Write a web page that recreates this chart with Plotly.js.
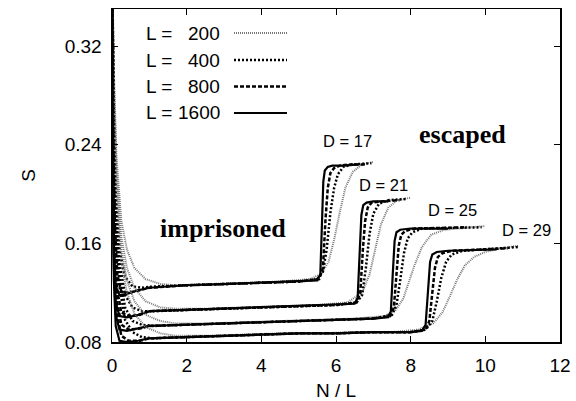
<!DOCTYPE html>
<html>
<head>
<meta charset="utf-8">
<script src="https://cdn.plot.ly/plotly-3.0.1.min.js"></script>
<style>body{margin:0;padding:0;background:#fff}#chart{width:576px;height:401px}</style>
</head>
<body>
<div id="chart"></div>
<script>
// ---- data ----
const D_values = [17, 21, 25, 29];
const L_values = [200, 400, 800, 1600];
const D_label_x = [6.30, 7.26, 9.11, 11.09];
const D_label_y = [0.243, 0.207, 0.187, 0.171];
const xTickVals = [0, 2, 4, 6, 8, 10, 12];
const yTickVals = [0.08, 0.16, 0.24, 0.32];

// D = 17
const x_D17_L1600 = [0,0.02,0.05,0.1,0.2,0.4,0.7,1.0,2,3,4,5,5.5,5.58,5.62,5.66,5.7,5.78,5.9,6.2,6.6];
const s_D17_L1600 = [0.40,0.24,0.16,0.125,0.118,0.119,0.122,0.124,0.126,0.127,0.128,0.129,0.130,0.135,0.175,0.210,0.219,0.222,0.223,0.223,0.224];
const x_D17_L800 = [0,0.03,0.07,0.14,0.25,0.45,0.75,1.0,2,3,4,5,5.55,5.65,5.72,5.78,5.85,5.95,6.1,6.4,6.8];
const s_D17_L800 = [0.40,0.26,0.18,0.135,0.121,0.120,0.122,0.124,0.126,0.127,0.128,0.129,0.131,0.140,0.180,0.205,0.217,0.221,0.223,0.224,0.224];
const x_D17_L400 = [0,0.04,0.1,0.2,0.35,0.55,0.8,1.1,2,3,4,5,5.5,5.65,5.75,5.85,5.95,6.05,6.2,6.45,6.95];
const s_D17_L400 = [0.40,0.28,0.20,0.155,0.133,0.125,0.124,0.125,0.126,0.127,0.128,0.129,0.131,0.137,0.155,0.185,0.205,0.216,0.222,0.224,0.225];
const x_D17_L200 = [0,0.05,0.12,0.25,0.4,0.6,0.9,1.3,1.7,2.5,3.5,4.5,5.3,5.6,5.8,5.95,6.1,6.25,6.45,6.7,7.0];
const s_D17_L200 = [0.40,0.30,0.23,0.178,0.155,0.140,0.131,0.127,0.126,0.127,0.128,0.129,0.131,0.135,0.145,0.163,0.185,0.205,0.218,0.224,0.226];

// D = 21
const x_D21_L1600 = [0,0.02,0.05,0.1,0.2,0.4,0.7,1.0,2,3,4,5,6,6.5,6.58,6.63,6.68,6.73,6.82,7.0,7.4];
const s_D21_L1600 = [0.40,0.23,0.15,0.112,0.101,0.100,0.102,0.105,0.106,0.107,0.108,0.109,0.110,0.111,0.116,0.150,0.183,0.191,0.193,0.194,0.194];
const x_D21_L800 = [0,0.03,0.07,0.14,0.25,0.45,0.75,1.0,2,3,4,5,6,6.55,6.65,6.72,6.78,6.85,6.95,7.2,7.7];
const s_D21_L800 = [0.40,0.25,0.17,0.122,0.104,0.101,0.102,0.105,0.106,0.107,0.108,0.109,0.110,0.112,0.120,0.155,0.178,0.189,0.193,0.194,0.195];
const x_D21_L400 = [0,0.04,0.1,0.2,0.35,0.55,0.8,1.1,2,3,4,5,6,6.55,6.7,6.8,6.9,7.0,7.15,7.4,7.9];
const s_D21_L400 = [0.40,0.27,0.19,0.145,0.118,0.108,0.105,0.105,0.106,0.107,0.108,0.109,0.110,0.112,0.118,0.140,0.168,0.184,0.192,0.195,0.196];
const x_D21_L200 = [0,0.05,0.12,0.25,0.4,0.6,0.9,1.3,1.7,2.5,3.5,4.5,5.5,6.3,6.7,6.9,7.05,7.2,7.4,7.65,8.0];
const s_D21_L200 = [0.40,0.29,0.22,0.165,0.140,0.124,0.113,0.108,0.107,0.107,0.108,0.109,0.110,0.112,0.120,0.135,0.155,0.175,0.189,0.195,0.197];

// D = 25
const x_D25_L1600 = [0,0.02,0.05,0.1,0.2,0.4,0.7,1.0,2,3,4,5,6,7,7.4,7.47,7.52,7.57,7.62,7.72,8.0,9.0];
const s_D25_L1600 = [0.40,0.22,0.14,0.102,0.090,0.089,0.091,0.093,0.094,0.095,0.096,0.097,0.098,0.099,0.100,0.105,0.135,0.162,0.169,0.171,0.172,0.172];
const x_D25_L800 = [0,0.03,0.07,0.14,0.25,0.45,0.75,1.0,2,3,4,5,6,7,7.45,7.55,7.62,7.68,7.75,7.85,8.1,9.5];
const s_D25_L800 = [0.40,0.24,0.16,0.112,0.094,0.090,0.091,0.093,0.094,0.095,0.096,0.097,0.098,0.099,0.101,0.108,0.135,0.158,0.167,0.170,0.172,0.173];
const x_D25_L400 = [0,0.04,0.1,0.2,0.35,0.55,0.8,1.1,2,3,4,5,6,7,7.5,7.62,7.72,7.82,7.92,8.05,8.3,9.9];
const s_D25_L400 = [0.40,0.26,0.18,0.135,0.108,0.097,0.094,0.093,0.094,0.095,0.096,0.097,0.098,0.099,0.102,0.110,0.130,0.152,0.164,0.169,0.172,0.173];
const x_D25_L200 = [0,0.05,0.12,0.25,0.4,0.6,0.9,1.3,1.7,2.5,3.5,4.5,5.5,6.5,7.3,7.6,7.8,7.95,8.1,8.3,8.55,8.9,10.0];
const s_D25_L200 = [0.40,0.28,0.21,0.155,0.130,0.113,0.102,0.097,0.095,0.095,0.096,0.097,0.098,0.099,0.101,0.106,0.115,0.128,0.142,0.157,0.167,0.171,0.174];

// D = 29
const x_D29_L1600 = [0,0.02,0.05,0.1,0.2,0.4,0.7,1.0,2,3,4,5,6,7,8,8.3,8.4,8.46,8.52,8.58,8.7,9.0,10.3];
const s_D29_L1600 = [0.40,0.21,0.13,0.093,0.081,0.080,0.081,0.083,0.084,0.085,0.086,0.087,0.087,0.088,0.088,0.089,0.094,0.120,0.145,0.151,0.153,0.154,0.155];
const x_D29_L800 = [0,0.03,0.07,0.14,0.25,0.45,0.75,1.0,2,3,4,5,6,7,8,8.4,8.5,8.58,8.65,8.73,8.85,9.1,10.6];
const s_D29_L800 = [0.40,0.23,0.15,0.102,0.085,0.081,0.081,0.083,0.084,0.085,0.086,0.087,0.087,0.088,0.088,0.090,0.097,0.120,0.140,0.149,0.152,0.154,0.156];
const x_D29_L400 = [0,0.04,0.1,0.2,0.35,0.55,0.8,1.1,2,3,4,5,6,7,8,8.4,8.58,8.7,8.82,8.95,9.1,9.4,10.9];
const s_D29_L400 = [0.40,0.25,0.17,0.125,0.098,0.088,0.084,0.083,0.084,0.085,0.086,0.087,0.087,0.088,0.088,0.090,0.097,0.113,0.132,0.145,0.151,0.154,0.157];
const x_D29_L200 = [0,0.05,0.12,0.25,0.4,0.6,0.9,1.3,1.7,2.5,3.5,4.5,5.5,6.5,7.5,8.2,8.6,8.85,9.05,9.25,9.45,9.7,10.0,10.4,10.9];
const s_D29_L200 = [0.40,0.27,0.20,0.145,0.120,0.103,0.092,0.087,0.085,0.085,0.086,0.087,0.087,0.088,0.088,0.090,0.095,0.104,0.117,0.131,0.142,0.149,0.153,0.156,0.158];

const curves = {
  17: {200:[x_D17_L200,s_D17_L200],400:[x_D17_L400,s_D17_L400],800:[x_D17_L800,s_D17_L800],1600:[x_D17_L1600,s_D17_L1600]},
  21: {200:[x_D21_L200,s_D21_L200],400:[x_D21_L400,s_D21_L400],800:[x_D21_L800,s_D21_L800],1600:[x_D21_L1600,s_D21_L1600]},
  25: {200:[x_D25_L200,s_D25_L200],400:[x_D25_L400,s_D25_L400],800:[x_D25_L800,s_D25_L800],1600:[x_D25_L1600,s_D25_L1600]},
  29: {200:[x_D29_L200,s_D29_L200],400:[x_D29_L400,s_D29_L400],800:[x_D29_L800,s_D29_L800],1600:[x_D29_L1600,s_D29_L1600]}
};

// ---- styles ----
const styles = {
  200:  {color:'#777777', width:2,   dash:'1px,1px'},
  400:  {color:'#000000', width:2.5, dash:'2px,2px'},
  800:  {color:'#000000', width:2.5, dash:'4px,2px'},
  1600: {color:'#000000', width:2.2, dash:'solid'}
};

const traces = [];
D_values.forEach(D => {
  L_values.forEach(L => {
    const c = curves[D][L];
    traces.push({x:c[0], y:c[1], mode:'lines', type:'scatter', showlegend:false,
      line:Object.assign({shape:'linear'}, styles[L]), hoverinfo:'skip'});
  });
});

// plot-area pixel geometry
const W = 576, H = 401, ML = 112, MR = 16, MT = 9, MB = 59;
const PW = W - ML - MR, PH = H - MT - MB;
const px2paperX = p => (p - ML) / PW;
const py2paperY = p => (H - MB - p) / PH;

const sansFont = 'Liberation Sans, Arial, Helvetica, sans-serif';
const serifFont = 'Liberation Serif, Times New Roman, serif';

const annotations = [];
const shapes = [];
const legendRowsY = [33, 60, 86.5, 113];
L_values.forEach((L, i) => {
  const yP = py2paperY(legendRowsY[i]);
  annotations.push({xref:'paper', yref:'paper', x:px2paperX(144), y:yP, text:'L =', showarrow:false,
    xanchor:'left', yanchor:'middle', font:{family:sansFont, size:19, color:'#000'}});
  annotations.push({xref:'paper', yref:'paper', x:px2paperX(222), y:yP, text:String(L), showarrow:false,
    xanchor:'right', yanchor:'middle', font:{family:sansFont, size:19, color:'#000'}});
  const st = styles[L];
  shapes.push({type:'line', xref:'paper', yref:'paper', x0:px2paperX(234), x1:px2paperX(287), y0:yP, y1:yP,
    line:{color:st.color, width:st.width, dash:st.dash}});
});
D_values.forEach((D, i) => {
  annotations.push({x:D_label_x[i], y:D_label_y[i], xref:'x', yref:'y', text:'D = ' + D, showarrow:false,
    xanchor:'center', yanchor:'middle', font:{family:sansFont, size:16.5, color:'#000'}});
});
annotations.push({x:2.97, y:0.172, xref:'x', yref:'y', text:'<b>imprisoned</b>', showarrow:false,
  xanchor:'center', yanchor:'middle', font:{family:serifFont, size:26, color:'#000'}});
annotations.push({x:9.38, y:0.248, xref:'x', yref:'y', text:'<b>escaped</b>', showarrow:false,
  xanchor:'center', yanchor:'middle', font:{family:serifFont, size:26, color:'#000'}});

const layout = {
  width: W, height: H,
  margin: {l:ML, r:MR, t:MT, b:MB, pad:0},
  paper_bgcolor:'#fff', plot_bgcolor:'#fff',
  showlegend:false,
  font:{family:sansFont, size:19, color:'#000'},
  xaxis:{range:[0,12], tickvals:xTickVals, ticks:'inside', ticklen:6, tickcolor:'#000',
    showline:true, linecolor:'#000', linewidth:1.5, mirror:'allticks', showgrid:false, zeroline:false,
    ticklabelstandoff:6,
    tickfont:{family:sansFont, size:19}, title:{text:'N / L', font:{family:sansFont, size:19}, standoff:8}},
  yaxis:{range:[0.08,0.35], tickvals:yTickVals, tickformat:'.2f', ticks:'inside', ticklen:6, tickcolor:'#000',
    showline:true, linecolor:'#000', linewidth:1.5, mirror:'allticks', showgrid:false, zeroline:false,
    ticklabelstandoff:5,
    tickfont:{family:sansFont, size:19}, title:{text:'S', font:{family:sansFont, size:19}, standoff:24}},
  annotations: annotations,
  shapes: shapes
};

Plotly.newPlot('chart', traces, layout, {staticPlot:true, displayModeBar:false});
</script>
</body>
</html>
